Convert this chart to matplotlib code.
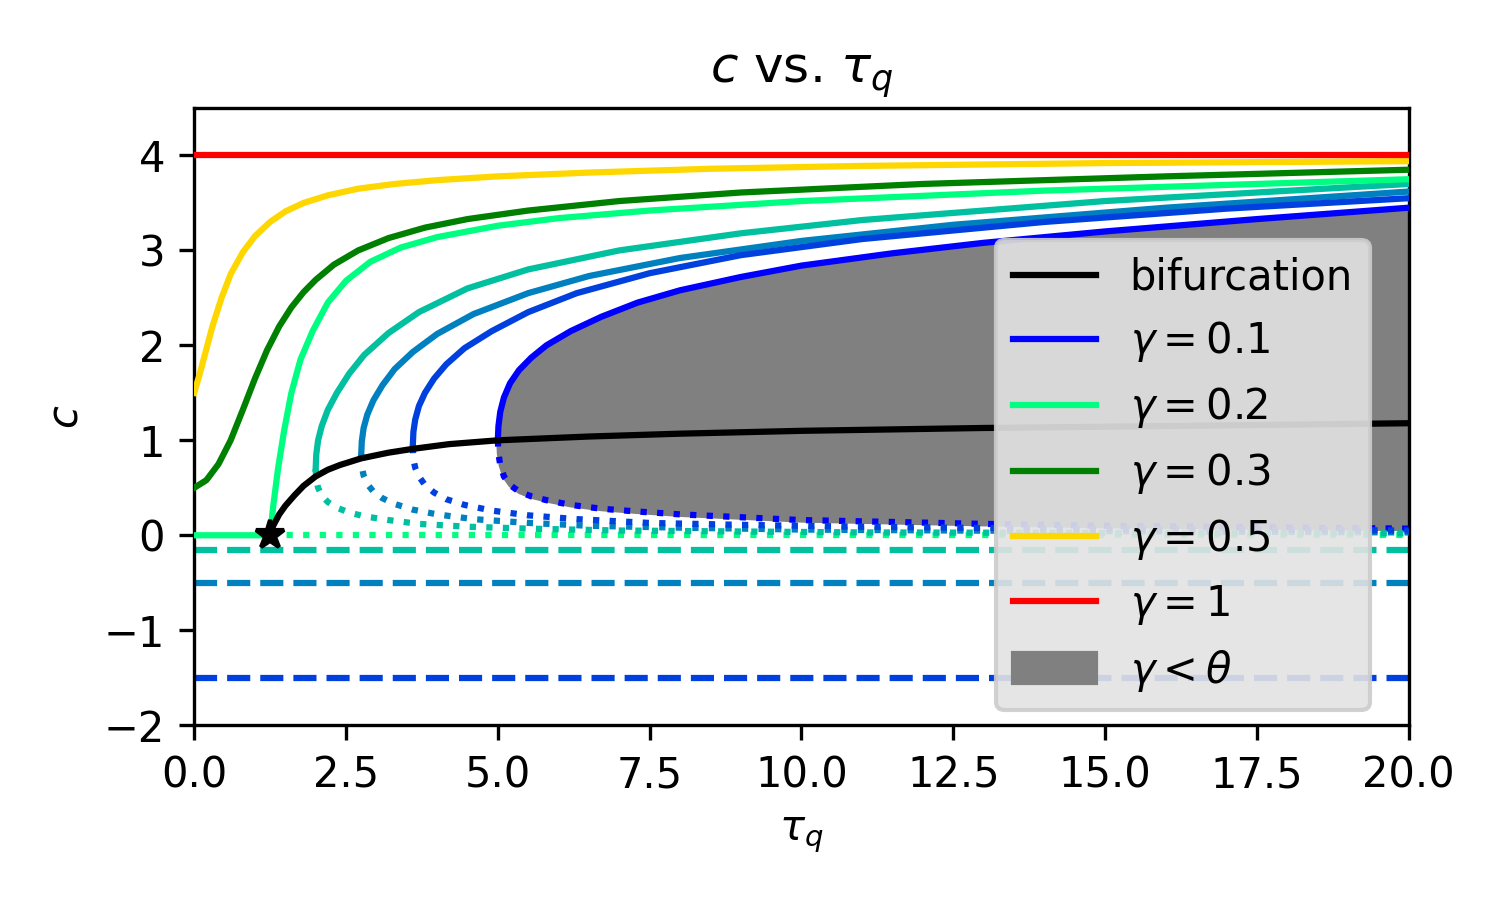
import numpy as np
import matplotlib
matplotlib.use("Agg")
import matplotlib.pyplot as plt

winter = plt.get_cmap("winter")

# bifurcation curve
bif_x = [1.25, 1.3, 1.4, 1.5, 1.65, 1.8, 2.0, 2.2, 2.4, 2.75, 3.2, 3.6, 4.2, 5.0, 6.5, 8.0, 10.0, 13.0, 16.0, 20.0]
bif_c = [0.0, 0.1, 0.22, 0.31, 0.42, 0.52, 0.62, 0.69, 0.74, 0.81, 0.87, 0.91, 0.96, 1.0, 1.04, 1.07, 1.1, 1.13, 1.15, 1.18]

# gamma = 0.1 (upper / lower branch on same grid)
g1_x = [5.0, 5.01, 5.04, 5.1, 5.2, 5.35, 5.55, 5.8, 6.2, 6.7, 7.3, 8.0, 9.0, 10.0, 11.5, 13.0, 15.0, 17.5, 20.0]
g1_up = [1.0, 1.15, 1.3, 1.45, 1.6, 1.74, 1.87, 2.0, 2.15, 2.3, 2.45, 2.58, 2.72, 2.84, 2.97, 3.08, 3.2, 3.33, 3.45]
g1_lo = [1.0, 0.86, 0.74, 0.62, 0.53, 0.46, 0.41, 0.37, 0.32, 0.28, 0.25, 0.22, 0.19, 0.16, 0.14, 0.12, 0.1, 0.085, 0.07]

# intermediate gammas (winter colormap steps)
mid_x = [
    [2.0, 2.01, 2.04, 2.1, 2.2, 2.35, 2.55, 2.8, 3.2, 3.7, 4.5, 5.5, 7.0, 9.0, 11.0, 15.0, 20.0],
    [2.75, 2.76, 2.79, 2.85, 2.95, 3.1, 3.3, 3.6, 4.0, 4.6, 5.5, 6.5, 8.0, 10.0, 12.5, 16.0, 20.0],
    [3.6, 3.61, 3.64, 3.7, 3.8, 3.95, 4.15, 4.45, 4.9, 5.5, 6.3, 7.5, 9.0, 11.0, 14.0, 17.0, 20.0],
]
mid_up = [
    [0.7, 0.85, 1.0, 1.15, 1.32, 1.5, 1.7, 1.9, 2.13, 2.35, 2.6, 2.8, 3.0, 3.18, 3.32, 3.52, 3.7],
    [0.85, 0.99, 1.13, 1.27, 1.42, 1.58, 1.75, 1.93, 2.12, 2.33, 2.55, 2.73, 2.92, 3.1, 3.27, 3.45, 3.62],
    [0.95, 1.09, 1.22, 1.36, 1.5, 1.65, 1.8, 1.97, 2.15, 2.35, 2.55, 2.76, 2.95, 3.12, 3.3, 3.44, 3.55],
]
mid_lo = [
    [0.7, 0.58, 0.5, 0.42, 0.35, 0.29, 0.24, 0.2, 0.16, 0.12, 0.09, 0.07, 0.05, 0.04, 0.03, 0.025, 0.02],
    [0.85, 0.72, 0.63, 0.54, 0.46, 0.39, 0.33, 0.27, 0.22, 0.17, 0.13, 0.1, 0.08, 0.06, 0.05, 0.04, 0.03],
    [0.93, 0.8, 0.71, 0.62, 0.53, 0.45, 0.38, 0.32, 0.26, 0.21, 0.17, 0.13, 0.11, 0.09, 0.07, 0.06, 0.05],
]
mid_dash = [-0.15, -0.5, -1.5]
mid_col = [winter(0.75), winter(0.5), winter(0.25)]

# gamma = 0.2
g2_x = [0.0, 1.25, 1.3, 1.38, 1.48, 1.6, 1.75, 1.95, 2.2, 2.5, 2.9, 3.4, 4.0, 5.0, 6.0, 7.5, 10.0, 14.0, 20.0]
g2_c = [0.0, 0.0, 0.3, 0.7, 1.1, 1.5, 1.85, 2.15, 2.45, 2.68, 2.88, 3.03, 3.14, 3.26, 3.34, 3.42, 3.52, 3.63, 3.75]
g2_lo_x = [1.25, 20.0]
g2_lo_c = [0.0, 0.0]

# gamma = 0.3
g3_x = [0.0, 0.2, 0.4, 0.6, 0.8, 1.0, 1.2, 1.4, 1.6, 1.8, 2.0, 2.3, 2.7, 3.2, 3.8, 4.5, 5.5, 7.0, 9.0, 12.0, 16.0, 20.0]
g3_c = [0.5, 0.58, 0.75, 1.0, 1.32, 1.65, 1.95, 2.2, 2.4, 2.56, 2.69, 2.85, 3.0, 3.13, 3.24, 3.33, 3.42, 3.52, 3.61, 3.7, 3.78, 3.85]

# gamma = 0.5
g5_x = [0.0, 0.1, 0.2, 0.3, 0.45, 0.6, 0.8, 1.0, 1.25, 1.5, 1.8, 2.2, 2.7, 3.3, 4.0, 5.0, 6.5, 8.5, 11.0, 15.0, 20.0]
g5_c = [1.5, 1.72, 1.96, 2.2, 2.5, 2.75, 2.98, 3.15, 3.3, 3.41, 3.5, 3.58, 3.65, 3.7, 3.74, 3.78, 3.82, 3.86, 3.89, 3.92, 3.94]

fig, ax = plt.subplots(figsize=(5, 3), dpi=300)

ax.fill_between(g1_x, g1_lo, g1_up, color="gray", label=r"$\gamma < \theta$", zorder=1)
ax.plot(bif_x, bif_c, color="black", lw=1.5, label="bifurcation", zorder=4)
ax.plot(g1_x, g1_up, color=winter(0.0), lw=1.5, label=r"$\gamma = 0.1$", zorder=3)
ax.plot(g1_x, g1_lo, color=winter(0.0), lw=1.5, ls=":", zorder=3)
for xs, up, lo, d, col in zip(mid_x, mid_up, mid_lo, mid_dash, mid_col):
    ax.plot(xs, up, color=col, lw=1.5, zorder=3)
    ax.plot(xs, lo, color=col, lw=1.5, ls=":", zorder=3)
    ax.axhline(d, color=col, lw=1.5, ls="--", zorder=2)
ax.plot(g2_x, g2_c, color=winter(1.0), lw=1.5, label=r"$\gamma = 0.2$", zorder=3)
ax.plot(g2_lo_x, g2_lo_c, color=winter(1.0), lw=1.5, ls=":", zorder=2)
ax.plot(g3_x, g3_c, color="green", lw=1.5, label=r"$\gamma = 0.3$", zorder=3)
ax.plot(g5_x, g5_c, color="gold", lw=1.5, label=r"$\gamma = 0.5$", zorder=3)
ax.axhline(4, color="red", lw=1.5, label=r"$\gamma = 1$", zorder=3)
ax.plot([1.25], [0], marker="*", color="black", ms=7, zorder=5)

handles, labels = ax.get_legend_handles_labels()
order = ["bifurcation", r"$\gamma = 0.1$", r"$\gamma = 0.2$", r"$\gamma = 0.3$",
         r"$\gamma = 0.5$", r"$\gamma = 1$", r"$\gamma < \theta$"]
hmap = dict(zip(labels, handles))
ax.legend([hmap[l] for l in order], order, loc="upper right",
          bbox_to_anchor=(0.985, 0.82), facecolor="#e3e3e3", framealpha=0.9)

ax.set_xlim(0, 20)
ax.set_ylim(-2, 4.5)
ax.set_xlabel(r"$\tau_q$")
ax.set_ylabel(r"$c$")
ax.set_title(r"$c$ vs. $\tau_q$")

plt.tight_layout()
plt.subplots_adjust(top=0.88)
plt.savefig("out.png", dpi=300)
